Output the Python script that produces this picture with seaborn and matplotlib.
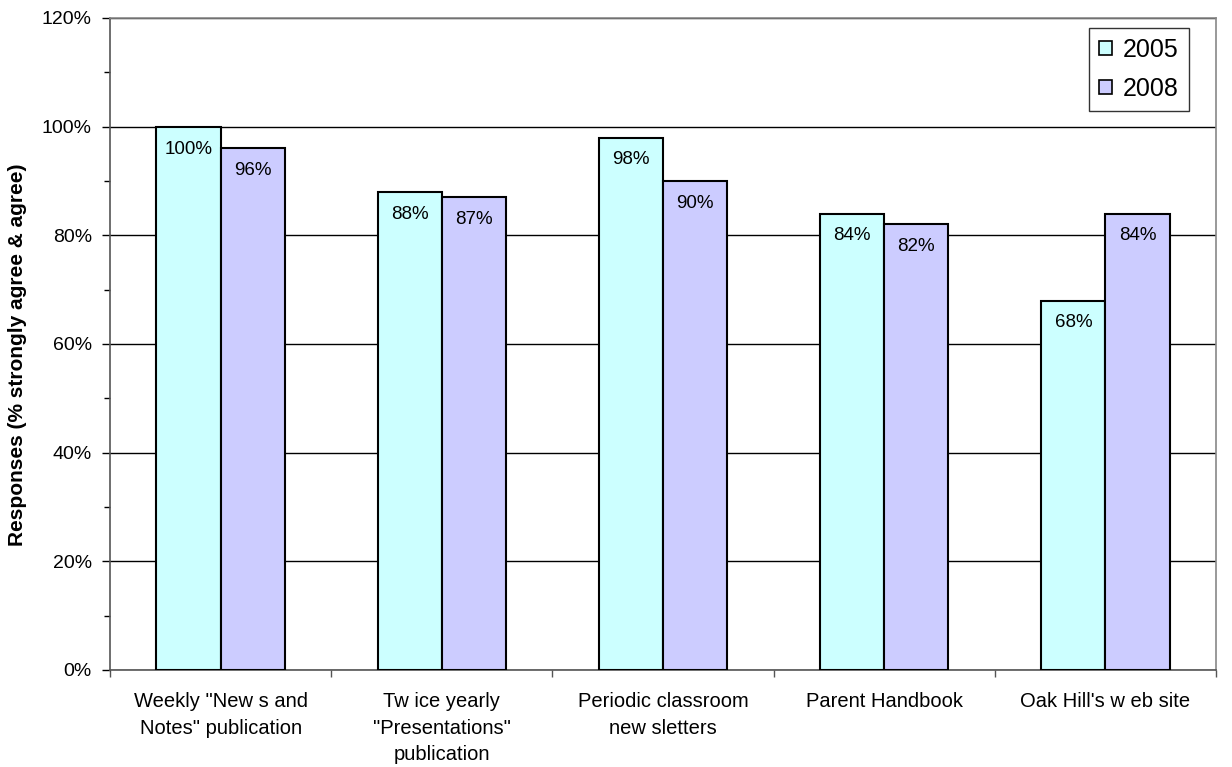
import matplotlib
matplotlib.use("Agg")
import matplotlib.pyplot as plt
import seaborn as sns
import pandas as pd
import numpy as np
from matplotlib.ticker import MultipleLocator, FuncFormatter, FixedLocator
from matplotlib.patches import Patch

categories = ['Weekly "New s and\nNotes" publication',
              'Tw ice yearly\n"Presentations"\npublication',
              'Periodic classroom\nnew sletters',
              'Parent Handbook',
              "Oak Hill's w eb site"]
years = ["2005", "2008"]
values_2005 = [1.00, 0.88, 0.98, 0.84, 0.68]
values_2008 = [0.96, 0.87, 0.90, 0.82, 0.84]
colors = ["#CCFFFF", "#CCCCFF"]

df = pd.DataFrame({
    "category": categories * 2,
    "year": [years[0]] * 5 + [years[1]] * 5,
    "value": values_2005 + values_2008,
})

sns.set_style("white")
plt.rcParams["font.family"] = ["Liberation Sans", "DejaVu Sans"]
plt.rcParams["text.color"] = "black"
plt.rcParams["xtick.color"] = "black"
plt.rcParams["ytick.color"] = "black"
plt.rcParams["axes.labelcolor"] = "black"

fig = plt.figure(figsize=(12.32, 7.67), dpi=100)
ax = fig.add_axes([110/1232, 1 - 670/767, (1216-110)/1232, (670-18)/767])

sns.barplot(data=df, x="category", y="value", hue="year", order=categories,
            hue_order=years, palette=colors, width=0.58, gap=0,
            edgecolor="black", linewidth=1.5, saturation=1, ax=ax,
            legend=False, zorder=3)

for cont in ax.containers:
    texts = ax.bar_label(cont, labels=[f"{v*100:.0f}%" for v in cont.datavalues],
                         padding=-10, fontsize=13.5, zorder=4, color="black")
    for t in texts:
        t.set_va("top")

ax.set_ylim(0, 1.2)
ax.set_xlim(-0.5, 4.5)
ax.yaxis.set_major_locator(MultipleLocator(0.2))
ax.yaxis.set_minor_locator(MultipleLocator(0.1))
ax.yaxis.set_major_formatter(FuncFormatter(lambda v, p: f"{v*100:.0f}%"))
ax.grid(axis="y", which="major", color="black", linewidth=1, zorder=0)
ax.set_axisbelow(True)

ax.xaxis.set_minor_locator(FixedLocator(np.arange(-0.5, 5, 1)))
ax.tick_params(axis="x", which="major", length=0, pad=16, labelsize=14.5)
for lbl in ax.get_xticklabels():
    lbl.set_linespacing(1.5)
ax.tick_params(axis="x", which="minor", length=5, width=1, color="#555555", bottom=True, direction="out")
ax.tick_params(axis="y", which="major", length=6, width=1, color="black", left=True, direction="out", labelsize=14, pad=7)
ax.tick_params(axis="y", which="minor", length=4, width=1, color="black", left=True, direction="out")

for s in ["top", "right"]:
    ax.spines[s].set_visible(True)
    ax.spines[s].set_color("#888888")
    ax.spines[s].set_linewidth(1.2)
ax.spines["left"].set_color("#555555")
ax.spines["bottom"].set_color("#555555")
ax.spines["left"].set_linewidth(1.2)
ax.spines["bottom"].set_linewidth(1.2)

ax.set_xlabel("")
ax.set_ylabel("Responses (% strongly agree & agree)", fontsize=15, fontweight="bold")
ax.yaxis.set_label_coords(-0.075, 0.483)

handles = [Patch(facecolor=c, edgecolor="black", linewidth=1.2, label=y) for c, y in zip(colors, years)]
leg = ax.legend(handles=handles, loc="upper right", fontsize=18, frameon=True, fancybox=False,
                handlelength=0.5, handleheight=0.5, handletextpad=0.45, borderpad=0.4,
                labelspacing=0.6, borderaxespad=0)
leg.set_bbox_to_anchor((1189/1232, 1 - 28/767), transform=fig.transFigure)
leg.get_frame().set_edgecolor("black")
leg.get_frame().set_linewidth(1.0)

fig.savefig("out.png", dpi=100)
